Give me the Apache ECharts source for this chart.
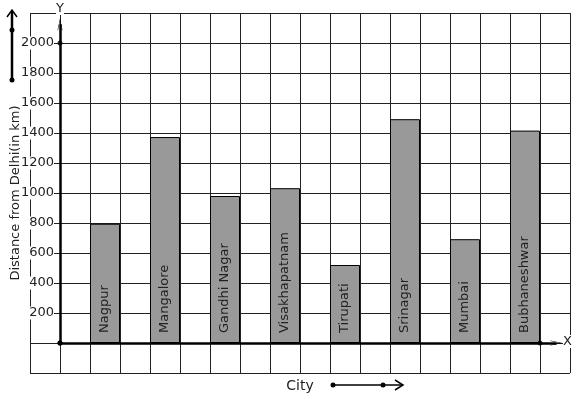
<!DOCTYPE html>
<html>
<head>
<meta charset="utf-8">
<script src="https://cdn.jsdelivr.net/npm/echarts@6/dist/echarts.min.js"></script>
<style>
	html, body { margin: 0; padding: 0; background: #fff; }
	#chart { width: 577px; height: 399px; }
</style>
</head>
<body>
<div id="chart"></div>
<script>
	'use strict'

	/*-----data-----*/
	var cities = ['Nagpur', 'Mangalore', 'Gandhi Nagar', 'Visakhapatnam', 'Tirupati', 'Srinagar', 'Mumbai', 'Bubhaneshwar'];
	var distances = [795, 1373, 980, 1032, 520, 1492, 692, 1416];
	var yTicks = [200, 400, 600, 800, 1000, 1200, 1400, 1600, 1800, 2000];

	var font = 'DejaVu Sans';
	var chevron = 'path://M10,0 L20,12 L18,12 L10,3 L2,12 L0,12 Z';

	// one bar every second grid cell, starting at the second cell right of the y axis
	var barData = cities.map(function(c, i) {
		return [1.5 + 2 * i, distances[i]];
	});

	var chart = echarts.init(document.getElementById('chart'));
	var option = {
		animation: false,
		grid: {
			left: 30,
			top: 13,
			width: 540,
			height: 360,
			containLabel: false,
			outerBoundsMode: 'none'
		},
		xAxis: {
			type: 'value',
			min: -1,
			max: 17,
			interval: 1,
			name: 'City',
			nameLocation: 'middle',
			nameGap: 6,
			nameTextStyle: { fontFamily: font, fontSize: 14, color: '#222' },
			axisLine: { show: false },
			axisTick: { show: false },
			axisLabel: { show: false },
			splitLine: { show: true, lineStyle: { color: '#222', width: 1 } }
		},
		yAxis: [{
			type: 'value',
			position: 'left',
			min: -200,
			max: 2200,
			interval: 200,
			axisLine: { show: false },
			axisTick: { show: false },
			axisLabel: { show: false },
			splitLine: { show: true, lineStyle: { color: '#222', width: 1 } }
		}, {
			type: 'value',
			position: 'left',
			min: -200,
			max: 2200,
			interval: 200,
			z: 5,
			name: 'Distance from Delhi(in km)',
			nameLocation: 'middle',
			nameGap: 8,
			nameMoveOverlap: false,
			nameTextStyle: { fontFamily: font, fontSize: 13, color: '#222' },
			axisLine: { show: false, onZero: false },
			axisTick: { show: false },
			splitLine: { show: false },
			axisLabel: {
				margin: -24,
				fontFamily: font,
				fontSize: 13,
				color: '#222',
				backgroundColor: '#fff',
				formatter: function(v) {
					return yTicks.indexOf(v) >= 0 ? String(v) : '';
				}
			}
		}],
		series: [{
			type: 'bar',
			data: barData,
			barWidth: 30,
			itemStyle: {
				color: '#999999',
				borderColor: '#000',
				borderWidth: 1
			},
			label: {
				show: true,
				position: 'insideBottom',
				rotate: 90,
				align: 'left',
				verticalAlign: 'middle',
				distance: 10,
				fontFamily: font,
				fontSize: 13,
				color: '#222',
				formatter: function(p) {
					return cities[p.dataIndex];
				}
			},
			markLine: {
				silent: true,
				symbol: ['circle', chevron],
				symbolSize: [5, 12],
				label: { show: false },
				lineStyle: { color: '#000', width: 2.5, type: 'solid' },
				data: [
					[{ coord: [0, 0] }, { coord: [0, 2125] }],
					[{ coord: [0, 0] }, { coord: [16.55, 0] }]
				]
			},
			z: 3
		}, {
			type: 'scatter',
			data: [[0, 2000], [16, 0]],
			symbolSize: 5,
			itemStyle: { color: '#000' },
			z: 4
		}],
		graphic: [
			// axis letters
			{ type: 'text', left: 56, top: 2, z: 10, style: { text: 'Y', font: '13px DejaVu Sans', fill: '#222', backgroundColor: '#fff' } },
			{ type: 'text', left: 563, top: 335, z: 10, style: { text: 'X', font: '13px DejaVu Sans', fill: '#222', backgroundColor: '#fff' } },
			// left direction arrow
			{ type: 'polyline', z: 10, shape: { points: [[12, 80], [12, 11]] }, style: { stroke: '#000', lineWidth: 2.5 } },
			{ type: 'polyline', z: 10, shape: { points: [[7, 17], [12, 10], [17, 17]] }, style: { stroke: '#000', lineWidth: 1.5, fill: null } },
			{ type: 'circle', z: 10, shape: { cx: 12, cy: 30, r: 2.5 }, style: { fill: '#000' } },
			{ type: 'circle', z: 10, shape: { cx: 12, cy: 80, r: 2.5 }, style: { fill: '#000' } },
			// bottom direction arrow
			{ type: 'polyline', z: 10, shape: { points: [[333, 385], [402, 385]] }, style: { stroke: '#000', lineWidth: 1.5 } },
			{ type: 'polyline', z: 10, shape: { points: [[395, 380], [403, 385], [395, 390]] }, style: { stroke: '#000', lineWidth: 1.5, fill: null } },
			{ type: 'circle', z: 10, shape: { cx: 333, cy: 385, r: 2.5 }, style: { fill: '#000' } },
			{ type: 'circle', z: 10, shape: { cx: 383, cy: 385, r: 2.5 }, style: { fill: '#000' } }
		]
	};
	chart.setOption(option);
</script>
</body>
</html>
